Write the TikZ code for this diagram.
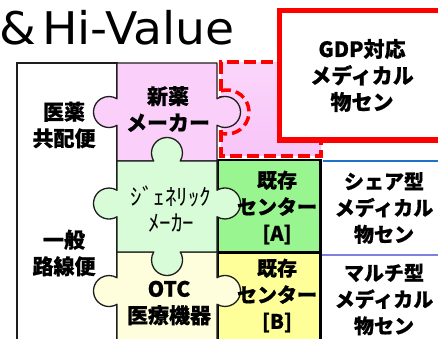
\documentclass[tikz,border=0pt]{standalone}
\usepackage{fontspec}
\newfontfamily\jp{Noto Sans CJK JP}[BoldFeatures={FakeBold=0.6}]
\newfontfamily\titlefont{DejaVu Sans}[FakeStretch=1.05]
\definecolor{pinkp}{RGB}{250,208,250}
\definecolor{greenp}{RGB}{216,252,216}
\definecolor{yellowp}{RGB}{255,254,220}
\definecolor{greenbox}{RGB}{153,245,143}
\definecolor{yellowbox}{RGB}{255,255,153}
\definecolor{redline}{RGB}{255,0,0}
\definecolor{blueline}{RGB}{30,115,200}
\definecolor{violetline}{RGB}{128,128,224}
\definecolor{edgecol}{RGB}{30,30,30}
\definecolor{dashpink}{RGB}{248,196,248}
\begin{document}
\begin{tikzpicture}[x=1pt,y=-1pt,
  piece/.style={draw=edgecol, line width=1.3pt, line join=round},
  boxline/.style={draw=black, line width=2.5pt},
  jlabel/.style={font=\jp\bfseries\fontsize{21}{26.5}\selectfont, align=center, text=black, inner sep=0pt},
  klabel/.style={font=\jp\bfseries\fontsize{20}{26.5}\selectfont, align=center, text=black, inner sep=0pt},
  hwlabel/.style={font=\jp\fontsize{23}{26}\selectfont, align=center, text=black, inner sep=0pt},
  reddash/.style={draw=redline, line width=4pt, dash pattern=on 12pt off 5pt}]
\useasboundingbox (0,0) rectangle (438,339);
\clip (0,0) rectangle (438,339);
% left white box
\draw[draw=edgecol, line width=1.3pt, fill=white] (17,63) rectangle (117,345);
% dashed pink region
\shade[top color=dashpink!70!white, middle color=white, bottom color=dashpink] (221,62.5) rectangle (321,155.5);
\draw[reddash, dash phase=8pt] (321,141) -- (321,155.5) -- (221,155.5) -- (221,62.5) -- (282,62.5);
% GDP box
\draw[draw=redline, line width=5pt, fill=white] (279.5,10.5) rectangle (445,140);
% existing centers
\draw[boxline, fill=greenbox] (217.5,160) rectangle (320.5,252.5);
\draw[boxline, fill=yellowbox] (217.5,252.5) rectangle (320.5,345);
% puzzle pieces
\draw[piece, fill=pinkp] (117,63) -- (217,63) -- (217,98.72)
  arc[start angle=238.93, end angle=481.07, radius=15.5] -- (217,161) -- (117,161) -- (117,125.28)
  arc[start angle=58.93, end angle=301.07, radius=15.5] -- cycle;
\draw[piece, fill=yellowp] (117,252) -- (217,252) -- (217,277.72)
  arc[start angle=238.93, end angle=481.07, radius=15.5] -- (217,345) -- (117,345) -- (117,304.28)
  arc[start angle=58.93, end angle=301.07, radius=15.5] -- cycle;
\draw[piece, fill=greenp] (117,161) -- (153.72,161)
  arc[start angle=148.93, end angle=391.07, radius=15.5] -- (217,161) -- (217,190.22)
  arc[start angle=238.93, end angle=481.07, radius=15.5] -- (217,252) -- (180.28,252)
  arc[start angle=328.93, end angle=571.07, radius=15.5] -- (117,252) -- (117,216.78)
  arc[start angle=58.93, end angle=301.07, radius=15.5] -- cycle;
% red dashed arc round the knob
\draw[draw=redline, line width=3.5pt, dash pattern=on 10pt off 5pt] (221,90.8) arc[start angle=254.2, end angle=465.8, radius=22];
% separator lines
\coordinate (bl1) at (323,161);
\coordinate (bl2) at (440,161);
\coordinate (vl1) at (322,255);
\coordinate (vl2) at (440,255);
\draw[draw=blueline, line width=1.5pt] (bl1) -- (bl2);
\draw[draw=violetline, line width=2pt] (vl1) -- (vl2);
% texts
\node[anchor=base west, font=\titlefont\fontsize{45}{45}\selectfont, inner sep=0pt] (title) at (-1,45) {\&\kern6pt Hi-Value};
\node[jlabel] (gdp) at (362,75.5) {GDP対応\\メディカル\\物セン};
\node[jlabel] (kyohai) at (64,125) {医薬\\共配便};
\node[jlabel] (ippan) at (64,253) {一般\\路線便};
\node[jlabel] (shinyaku) at (168,109) {新薬\\メーカー};
\node[hwlabel] (generic) at (171,209) {ｼﾞｪﾈﾘｯｸ\\ﾒｰｶｰ};
\node[jlabel] (otc) at (169,303) {OTC\\医療機器};
\node[klabel] (centerA) at (277,207.5) {既存\\センター\\{}[A]};
\node[klabel] (centerB) at (277,295.5) {既存\\センター\\{}[B]};
\node[klabel] (share) at (384,208) {シェア型\\メディカル\\物セン};
\node[klabel] (multi) at (384,299.5) {マルチ型\\メディカル\\物セン};
\end{tikzpicture}
\end{document}
